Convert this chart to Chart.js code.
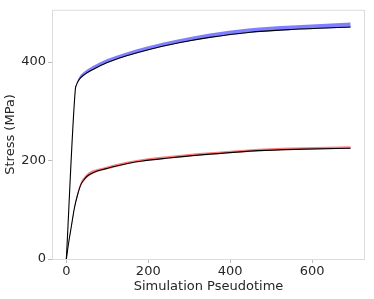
<!DOCTYPE html>
<html>
<head>
<meta charset="utf-8">
<script src="https://cdn.jsdelivr.net/npm/chart.js@4.4.1/dist/chart.umd.min.js"></script>
<style>
    html, body { margin: 0; padding: 0; background: #fff; }
    #wrap { width: 374px; height: 299px; }
</style>
</head>
<body>
<div id="wrap"><canvas id="stressChart"></canvas></div>
<script>
// Upper curve (black) and its blue band
const upperX    = [0, 22, 24, 32, 45, 65, 100, 145, 200, 275, 350, 444, 550, 694];
const upperY    = [0, 345, 352, 365, 375, 385, 399, 412, 425, 439, 450, 460, 466, 471];
const blueTopY  = [0, 347, 355, 370, 381, 392, 406, 419, 432, 446, 458, 468, 474, 480];
const blueLowY  = [0, 345, 351, 364, 374, 384, 398, 411, 424, 438, 449, 459, 465, 470];

// Lower curve (black) and its red band
const lowerX    = [0, 6, 12, 20, 28, 36, 44, 52, 65, 77, 95, 117, 150, 186, 250, 323, 400, 469, 580, 694];
const lowerY    = [0, 35, 65, 105, 132, 152, 162, 169, 175, 179, 183, 188, 194, 199, 205, 211, 216, 220, 223, 225];
const redTopY   = [0, 36, 67, 108, 137, 157, 167, 174, 180, 183, 187, 192, 198, 203, 209, 215, 220, 224, 227, 229];
const redLowY   = [0, 34, 63, 102, 129, 149, 159, 166, 173, 177, 181, 186, 193, 198, 204, 210, 215, 219, 222, 224];

const xTicks = [0, 200, 400, 600];
const yTicks = [0, 200, 400];

const FONT = 'DejaVu Sans';
const TEXT_COLOR = '#262626';
const SPINE_COLOR = '#dcdcdc';

function pts(xs, ys) {
    return xs.map((x, i) => ({ x: x, y: ys[i] }));
}

function curve(xs, ys) {
    return {
        data: pts(xs, ys),
        borderColor: '#000000',
        borderWidth: 1.1,
        pointRadius: 0,
        fill: false,
        cubicInterpolationMode: 'monotone'
    };
}

function band(xs, ys, color, fillTarget) {
    return {
        data: pts(xs, ys),
        borderColor: color,
        backgroundColor: color,
        borderWidth: 0,
        pointRadius: 0,
        fill: fillTarget,
        cubicInterpolationMode: 'monotone'
    };
}

// light grey box round the plot area
const frame = {
    id: 'frame',
    afterDraw(chart) {
        const a = chart.chartArea;
        const c = chart.ctx;
        c.save();
        c.strokeStyle = SPINE_COLOR;
        c.lineWidth = 1;
        c.strokeRect(a.left + 0.5, a.top + 0.5, a.right - a.left - 1, a.bottom - a.top);
        c.restore();
    }
};

new Chart(document.getElementById('stressChart'), {
    type: 'line',
    data: {
        datasets: [
            curve(upperX, upperY),
            curve(lowerX, lowerY),
            band(upperX, blueTopY, 'rgba(0, 0, 255, 0.5)', '+1'),
            band(upperX, blueLowY, 'rgba(0, 0, 255, 0)', false),
            band(lowerX, redTopY, 'rgba(255, 0, 0, 0.5)', '+1'),
            band(lowerX, redLowY, 'rgba(255, 0, 0, 0)', false)
        ]
    },
    options: {
        responsive: true,
        maintainAspectRatio: false,
        animation: false,
        layout: { padding: { top: 6, right: 9, left: 0, bottom: 0 } },
        plugins: {
            legend: { display: false },
            tooltip: { enabled: false }
        },
        scales: {
            x: {
                type: 'linear',
                min: -35,
                max: 729,
                afterBuildTicks: axis => { axis.ticks = xTicks.map(v => ({ value: v })); },
                afterFit: axis => { axis.height = 40; },
                grid: { display: true, drawOnChartArea: false, drawTicks: true, tickLength: 4, color: '#bbbbbb' },
                border: { display: false },
                ticks: { color: TEXT_COLOR, font: { family: FONT, size: 13 }, padding: 1, maxRotation: 0 },
                title: { display: true, text: 'Simulation Pseudotime', color: TEXT_COLOR, font: { family: FONT, size: 13 }, padding: { top: 0, bottom: 5 } }
            },
            y: {
                type: 'linear',
                min: 0,
                max: 506,
                afterBuildTicks: axis => { axis.ticks = yTicks.map(v => ({ value: v })); },
                afterFit: axis => { axis.width = 52; },
                grid: { display: true, drawOnChartArea: false, drawTicks: true, tickLength: 4, color: '#bbbbbb' },
                border: { display: false },
                ticks: { color: TEXT_COLOR, font: { family: FONT, size: 13 }, padding: 2 },
                title: { display: true, text: 'Stress (MPa)', color: TEXT_COLOR, font: { family: FONT, size: 13 }, padding: { top: 3, bottom: 2 } }
            }
        }
    },
    plugins: [frame]
});
</script>
</body>
</html>
